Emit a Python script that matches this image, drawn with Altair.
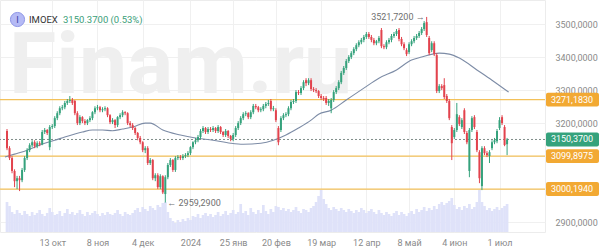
import altair as alt
import pandas as pd

# ---------------- data ----------------
opens = [3176, 3124, 3094, 3055, 3024, 3033, 3027, 3058, 3094, 3118,
         3133, 3142, 3130, 3139, 3136, 3173, 3179, 3127, 3188, 3191,
         3215, 3230, 3245, 3248, 3261, 3267, 3270, 3267, 3230, 3200,
         3218, 3206, 3200, 3209, 3215, 3233, 3245, 3248, 3239, 3242,
         3245, 3224, 3203, 3209, 3194, 3218, 3224, 3233, 3230, 3200,
         3194, 3185, 3170, 3155, 3142, 3118, 3124, 3079, 3088, 3033,
         3042, 3006, 3039, 2985, 3036, 3073, 3088, 3058, 3094, 3097,
         3094, 3100, 3103, 3109, 3127, 3142, 3148, 3158, 3176, 3185,
         3173, 3182, 3179, 3185, 3176, 3188, 3173, 3164, 3176, 3161,
         3152, 3164, 3185, 3200, 3215, 3227, 3230, 3218, 3233, 3252,
         3248, 3239, 3242, 3252, 3258, 3267, 3242, 3239, 3185, 3179,
         3215, 3224, 3227, 3245, 3264, 3267, 3294, 3291, 3306, 3330,
         3321, 3330, 3303, 3300, 3297, 3282, 3276, 3276, 3261, 3245,
         3270, 3294, 3306, 3324, 3352, 3367, 3388, 3400, 3412, 3424,
         3436, 3445, 3452, 3461, 3470, 3461, 3452, 3442, 3448, 3482,
         3433, 3430, 3445, 3452, 3464, 3470, 3482, 3455, 3439, 3421,
         3415, 3439, 3448, 3458, 3464, 3473, 3485, 3506, 3458, 3421,
         3442, 3406, 3297, 3312, 3315, 3282, 3267, 3188, 3158, 3179,
         3218, 3188, 3239, 3170, 3055, 3179, 3218, 3173, 3112, 3009,
         3124, 3109, 3100, 3124, 3142, 3145, 3185, 3218, 3188, 3136]

closes = [3124, 3094, 3055, 3024, 3033, 3027, 3058, 3094, 3118, 3133,
          3142, 3130, 3139, 3136, 3173, 3179, 3170, 3188, 3191, 3215,
          3230, 3245, 3248, 3261, 3267, 3270, 3261, 3230, 3200, 3218,
          3206, 3200, 3209, 3215, 3233, 3245, 3248, 3239, 3242, 3245,
          3224, 3203, 3209, 3194, 3218, 3224, 3233, 3230, 3200, 3194,
          3185, 3170, 3155, 3142, 3118, 3124, 3079, 3088, 3033, 3042,
          3006, 3039, 2990, 3036, 3073, 3088, 3058, 3094, 3097, 3094,
          3100, 3103, 3109, 3127, 3142, 3148, 3158, 3176, 3185, 3173,
          3182, 3179, 3185, 3176, 3188, 3173, 3164, 3176, 3161, 3152,
          3164, 3185, 3200, 3215, 3227, 3230, 3218, 3233, 3252, 3248,
          3239, 3242, 3252, 3258, 3261, 3242, 3245, 3209, 3142, 3215,
          3224, 3227, 3245, 3264, 3267, 3294, 3291, 3306, 3324, 3321,
          3330, 3303, 3300, 3297, 3282, 3276, 3273, 3261, 3267, 3270,
          3294, 3306, 3324, 3352, 3367, 3388, 3400, 3412, 3424, 3436,
          3445, 3452, 3461, 3470, 3461, 3452, 3442, 3448, 3458, 3433,
          3430, 3445, 3452, 3464, 3470, 3479, 3455, 3439, 3427, 3409,
          3439, 3448, 3458, 3464, 3473, 3485, 3503, 3467, 3412, 3442,
          3409, 3297, 3312, 3306, 3279, 3267, 3215, 3139, 3179, 3227,
          3197, 3209, 3173, 3142, 3179, 3215, 3188, 3118, 3033, 3124,
          3109, 3103, 3112, 3142, 3148, 3176, 3209, 3200, 3133.8, 3150.37]

highs = [3182, 3130, 3100, 3060, 3040, 3040, 3064, 3100, 3124, 3139,
         3148, 3148, 3145, 3145, 3179, 3185, 3182, 3194, 3197, 3221,
         3236, 3251, 3255, 3267, 3273, 3282, 3276, 3270, 3236, 3224,
         3221, 3212, 3212, 3221, 3236, 3251, 3255, 3252, 3248, 3251,
         3248, 3227, 3215, 3212, 3221, 3230, 3239, 3236, 3233, 3206,
         3200, 3188, 3173, 3161, 3145, 3130, 3130, 3094, 3091, 3048,
         3048, 3045, 3042, 3042, 3079, 3094, 3091, 3100, 3103, 3103,
         3106, 3109, 3115, 3130, 3145, 3155, 3164, 3182, 3191, 3188,
         3188, 3188, 3191, 3188, 3194, 3191, 3176, 3182, 3179, 3164,
         3170, 3191, 3206, 3221, 3233, 3236, 3233, 3239, 3258, 3258,
         3252, 3248, 3258, 3264, 3270, 3273, 3252, 3245, 3191, 3221,
         3230, 3233, 3251, 3270, 3273, 3300, 3300, 3312, 3330, 3336,
         3336, 3336, 3309, 3306, 3300, 3288, 3282, 3282, 3273, 3276,
         3300, 3312, 3330, 3358, 3373, 3394, 3406, 3418, 3430, 3442,
         3451, 3458, 3467, 3476, 3476, 3467, 3458, 3452, 3464, 3488,
         3439, 3451, 3458, 3470, 3476, 3485, 3488, 3461, 3445, 3427,
         3445, 3454, 3464, 3470, 3479, 3491, 3509, 3521.72, 3464, 3448,
         3448, 3412, 3318, 3318, 3336, 3288, 3273, 3194, 3185, 3261,
         3224, 3215, 3245, 3176, 3185, 3221, 3224, 3179, 3118, 3130,
         3130, 3115, 3118, 3148, 3155, 3182, 3218, 3224, 3194, 3155]

lows = [3118, 3088, 3048, 3006, 3000, 2994, 3021, 3052, 3088, 3112,
        3127, 3124, 3124, 3130, 3133, 3167, 3164, 3118, 3182, 3185,
        3209, 3224, 3239, 3242, 3255, 3261, 3255, 3224, 3194, 3194,
        3200, 3194, 3194, 3203, 3209, 3227, 3239, 3233, 3233, 3236,
        3218, 3197, 3197, 3185, 3188, 3212, 3218, 3224, 3194, 3188,
        3179, 3164, 3148, 3136, 3112, 3109, 3073, 3073, 3027, 3024,
        3000, 3000, 2985, 2959.29, 3030, 3067, 3052, 3052, 3088, 3088,
        3088, 3094, 3097, 3103, 3121, 3136, 3142, 3152, 3170, 3167,
        3167, 3173, 3173, 3170, 3170, 3167, 3158, 3158, 3155, 3145,
        3145, 3158, 3179, 3194, 3209, 3221, 3212, 3212, 3227, 3242,
        3233, 3233, 3236, 3245, 3252, 3236, 3236, 3203, 3133, 3173,
        3209, 3218, 3221, 3239, 3258, 3261, 3285, 3285, 3300, 3312,
        3315, 3297, 3294, 3291, 3276, 3270, 3267, 3255, 3252, 3230,
        3264, 3288, 3300, 3318, 3346, 3361, 3382, 3394, 3406, 3418,
        3430, 3439, 3445, 3455, 3455, 3445, 3436, 3436, 3442, 3427,
        3424, 3424, 3439, 3445, 3458, 3464, 3448, 3433, 3421, 3403,
        3409, 3433, 3442, 3452, 3458, 3467, 3479, 3461, 3406, 3415,
        3403, 3291, 3291, 3300, 3273, 3261, 3209, 3088, 3152, 3173,
        3191, 3182, 3167, 3136, 3036, 3173, 3182, 3112, 3018, 2997,
        3103, 3097, 3079, 3118, 3136, 3139, 3179, 3194, 3130, 3103]

volumes = [30, 26, 20, 18, 22, 19, 17, 21, 18, 16,
           20, 17, 19, 22, 18, 16, 19, 24, 20, 17,
           18, 21, 16, 19, 23, 18, 20, 17, 19, 22,
           18, 16, 20, 17, 19, 21, 18, 16, 19, 17,
           20, 18, 17, 19, 22, 18, 16, 20, 18, 17,
           19, 22, 24, 20, 25, 23, 21, 26, 24, 22,
           27, 25, 29, 30, 20, 14, 11, 9, 12, 10,
           13, 11, 14, 12, 16, 15, 18, 14, 17, 19,
           16, 18, 15, 17, 20, 16, 18, 21, 17, 19,
           22, 18, 20, 28, 19, 21, 17, 24, 20, 18,
           22, 19, 27, 21, 18, 23, 20, 26, 25, 22,
           24, 21, 23, 20, 22, 25, 21, 19, 23, 22,
           20, 24, 26, 30, 36, 42, 33, 28, 24, 22,
           25, 23, 21, 24, 22, 20, 23, 21, 19, 22,
           20, 24, 22, 19, 21, 23, 20, 18, 22, 19,
           17, 20, 18, 16, 19, 21, 17, 20, 18, 16,
           19, 21, 18, 23, 20, 22, 25, 21, 24, 22,
           26, 23, 28, 30, 27, 29, 31, 34, 27, 23,
           25, 22, 26, 24, 28, 23, 25, 30, 42, 30,
           26, 22, 24, 21, 23, 25, 22, 24, 26, 28]

ma_idx = [-0.8, 3, 7, 11, 15, 19, 23, 27, 30, 34, 38, 42, 46, 50, 55, 57, 62, 69,
          75, 82, 89, 94, 101, 106, 111, 116, 121, 124, 129, 135, 142, 148, 155,
          161, 165, 172, 176, 180, 187, 193, 199.6]
ma_val = [3097, 3106, 3115, 3127, 3139, 3148, 3158, 3167, 3173, 3179, 3179, 3177,
          3182, 3188, 3200, 3200, 3179, 3164, 3155, 3148, 3139, 3136, 3139, 3148,
          3164, 3185, 3209, 3227, 3239, 3270, 3306, 3336, 3361, 3391, 3400, 3412,
          3409, 3397, 3361, 3330, 3294]

tick_idx = [18, 36, 54, 73, 90, 107, 125, 143, 160, 178, 196]
tick_labels = ["13 окт", "8 ноя", "4 дек", "2024", "25 янв", "20 фев",
               "19 мар", "12 апр", "8 май", "4 июн", "1 июл"]
y_ticks = [2900, 3000, 3100, 3200, 3300, 3400, 3500]

level_vals = [3271.1830, 3099.8975, 3000.1940]
last_close = 3150.37
low_idx, low_val = 63, 2959.29
high_idx, high_val = 167, 3521.72

# ---------------- styling ----------------
GREEN = "#35a27c"
RED = "#e2434d"
ORANGE_LINE = "#f3c15a"
ORANGE_BOX = "#f2a933"
FONT = "Roboto"

n = len(closes)
df = pd.DataFrame({"i": list(range(n)), "open": opens, "close": closes,
                   "high": highs, "low": lows, "vol": volumes})
ma_df = pd.DataFrame({"i": ma_idx, "ma": ma_val})

label_expr = " : ".join(f"datum.value == {i} ? '{l}'" for i, l in zip(tick_idx, tick_labels)) + " : ''"

xscale = alt.Scale(domain=[-0.8, 212.1], nice=False, zero=False)
xaxis = alt.Axis(values=tick_idx, labelExpr=label_expr, grid=True, gridColor="#f0f0f0",
                 ticks=False, domain=False, labelColor="#8a8a8a", labelFont=FONT,
                 labelFontSize=9, labelPadding=6, title=None, labelFlush=False)
X = alt.X("i:Q", scale=xscale, axis=xaxis)

yscale = alt.Scale(domain=[2870, 3573], nice=False, zero=False)
yaxis = alt.Axis(orient="right", values=y_ticks,
                 labelExpr="replace(format(datum.value, '.4f'), '.', ',')",
                 grid=True, gridColor="#f0f0f0", ticks=False, domain=False,
                 labelColor="#8a8a8a", labelFont=FONT, labelFontSize=9,
                 labelPadding=10, title=None, labelAlign="left")

color_cond = alt.condition("datum.close >= datum.open", alt.value(GREEN), alt.value(RED))

# watermark
watermark = alt.Chart(pd.DataFrame({"t": ["Finam.ru"]})).mark_text(
    font=FONT, fontSize=86, fontWeight="bold", color="#efefef",
    align="left", baseline="alphabetic"
).encode(x=alt.value(9), y=alt.value(93), text="t:N")

# volume
volume = alt.Chart(df).mark_bar(size=2.7, color="#dfe2f9").encode(
    x=X, y=alt.Y("vol:Q", scale=alt.Scale(domain=[0, 232]), axis=None)
)

levels_df = pd.DataFrame({"v": level_vals})
level_rules = alt.Chart(levels_df).mark_rule(color=ORANGE_LINE, strokeWidth=1.2).encode(
    y=alt.Y("v:Q", scale=yscale, axis=yaxis)
)

close_rule = alt.Chart(pd.DataFrame({"v": [last_close]})).mark_rule(
    color="#7f8c88", strokeDash=[2, 2], strokeWidth=1
).encode(y=alt.Y("v:Q", scale=yscale, axis=yaxis))

ma_line = alt.Chart(ma_df).mark_line(color="#7d8ca6", strokeWidth=1.1, interpolate="monotone").encode(
    x=X, y=alt.Y("ma:Q", scale=yscale, axis=yaxis)
)

wicks = alt.Chart(df).mark_rule(strokeWidth=1).encode(
    x=X, y=alt.Y("low:Q", scale=yscale, axis=yaxis), y2="high:Q", color=color_cond
)
bodies = alt.Chart(df).mark_bar(size=2).encode(
    x=X, y=alt.Y("open:Q", scale=yscale, axis=yaxis), y2="close:Q", color=color_cond
)

# price tags on the right
tags_df = pd.DataFrame({"v": level_vals + [last_close],
                        "c": [ORANGE_BOX, ORANGE_BOX, ORANGE_BOX, GREEN]})
tag_boxes = alt.Chart(tags_df).transform_calculate(
    lo="datum.v - 21", hi="datum.v + 21"
).mark_rect(cornerRadius=2).encode(
    x=alt.value(546), x2=alt.value(599),
    y=alt.Y("lo:Q", scale=yscale, axis=yaxis), y2="hi:Q",
    color=alt.Color("c:N", scale=None)
)
tag_text = alt.Chart(tags_df).transform_calculate(
    lab="replace(format(datum.v, '.4f'), '.', ',')"
).mark_text(color="white", font=FONT, fontSize=9, align="center", baseline="middle").encode(
    x=alt.value(572), y=alt.Y("v:Q", scale=yscale, axis=yaxis), text="lab:N"
)

low_ann = alt.Chart(pd.DataFrame({"i": [low_idx], "v": [low_val], "t": ["← 2959,2900"]})).mark_text(
    align="left", baseline="middle", dx=2, font=FONT, fontSize=9, color="#6f6f6f"
).encode(x=X, y=alt.Y("v:Q", scale=yscale, axis=yaxis), text="t:N")
high_ann = alt.Chart(pd.DataFrame({"i": [high_idx], "v": [high_val], "t": ["3521,7200 →"]})).mark_text(
    align="right", baseline="middle", dx=-2, font=FONT, fontSize=9, color="#6f6f6f"
).encode(x=X, y=alt.Y("v:Q", scale=yscale, axis=yaxis), text="t:N")

# legend top-left
one = pd.DataFrame({"a": [0]})
leg_circle = alt.Chart(one).mark_circle(size=200, color="#b5baf5", opacity=1,
                                        stroke="#8d95e6", strokeWidth=1).encode(
    x=alt.value(17.5), y=alt.value(19.5))
leg_i = alt.Chart(pd.DataFrame({"t": ["I"]})).mark_text(
    font=FONT, fontSize=9, color="#3a42a8", align="center", baseline="middle"
).encode(x=alt.value(17.5), y=alt.value(19.5), text="t:N")
leg_name = alt.Chart(pd.DataFrame({"t": ["IMOEX"]})).mark_text(
    font=FONT, fontSize=9.5, color="#333333", align="left", baseline="middle"
).encode(x=alt.value(29), y=alt.value(19.5), text="t:N")
leg_val = alt.Chart(pd.DataFrame({"t": ["3150.3700 (0.53%)"]})).mark_text(
    font=FONT, fontSize=9.5, color="#3a9e78", align="left", baseline="middle"
).encode(x=alt.value(63), y=alt.value(19.5), text="t:N")

price = alt.layer(level_rules, close_rule, ma_line, wicks, bodies,
                  low_ann, high_ann, tag_boxes, tag_text)

chart = alt.layer(watermark, volume, price, leg_circle, leg_i, leg_name, leg_val).resolve_scale(
    y="independent"
).properties(
    width=545, height=232,
    autosize=alt.AutoSizeParams(type="none"),
    padding={"left": 0, "top": 0, "right": 55, "bottom": 17},
    background="white"
).configure_view(stroke="#ececec", strokeWidth=1)

chart.save("out.html", embed_options={"renderer": "svg", "actions": False})
